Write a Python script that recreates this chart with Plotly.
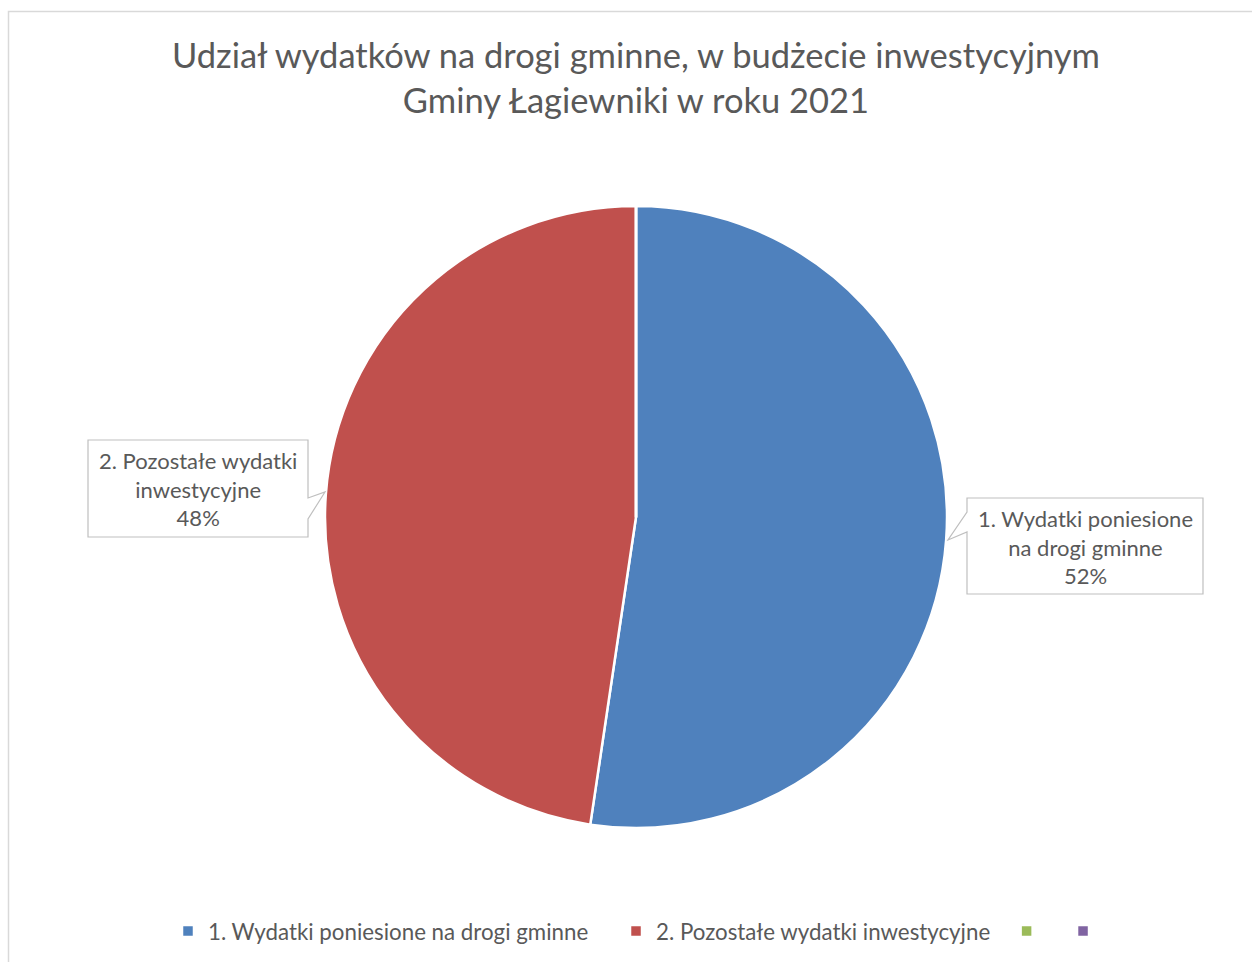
import plotly.graph_objects as go

# ---- data ----
categories = ["1. Wydatki poniesione na drogi gminne", "2. Pozostałe wydatki inwestycyjne", "", ""]
values = [52.35, 47.65, 0, 0]
colors = ["#4F81BD", "#C0504D", "#9BBB59", "#8064A2"]
callout_lines = [["1. Wydatki poniesione", "na drogi gminne"], ["2. Pozostałe wydatki", "inwestycyjne"]]
title_lines = ["Udział wydatków na drogi gminne, w budżecie inwestycyjnym", "Gminy Łagiewniki w roku 2021"]

W, H = 1252, 962
FONT = "Lato"
GRAY = "#595959"
NB = "\u00a0"

def px(x):
    return x / W

def py(y):
    return 1 - y / H

# legend labels: pad with invisible spaces (and keep empty ones unique)
legend_labels = []
pads = [4, 2, 2, 1]
for i, c in enumerate(categories):
    legend_labels.append(c + NB * pads[i])

fig = go.Figure(go.Pie(
    labels=legend_labels,
    values=values,
    marker=dict(colors=colors, line=dict(color="white", width=2.5)),
    sort=False,
    direction="clockwise",
    rotation=0,
    textinfo="none",
    hoverinfo="label+percent",
    domain=dict(x=[px(325), px(947)], y=[py(828), py(206)]),
))

total = sum(values)
pcts = [round(v / total * 100) for v in values]

shapes = []
# outer chart frame
shapes.append(dict(type="rect", xref="paper", yref="paper",
                   x0=px(8.5), x1=px(1270), y0=py(980), y1=py(11.5),
                   line=dict(color="#D9D9D9", width=1.5), fillcolor="rgba(0,0,0,0)", layer="below"))

def callout(box, pointer):
    x0, y0, x1, y1 = box
    a, tip, b = pointer["pts"]
    if pointer["side"] == "right":
        pts = [(x0, y0), (x1, y0), a, tip, b, (x1, y1), (x0, y1)]
    else:
        pts = [(x0, y0), (x1, y0), (x1, y1), (x0, y1), b, tip, a]
    path = "M" + " L".join(f"{px(x):.5f},{py(y):.5f}" for x, y in pts) + " Z"
    return dict(type="path", xref="paper", yref="paper", path=path,
                line=dict(color="#BFBFBF", width=1.2), fillcolor="white", layer="above")

# label boxes (right: series 1, left: series 2)
boxes = [
    ((967, 498, 1203, 594), dict(side="left", pts=[(967, 512), (948, 540), (967, 532)])),
    ((88, 440, 308, 537), dict(side="right", pts=[(308, 498), (325, 492), (308, 519)])),
]
annotations = []
for i, (box, ptr) in enumerate(boxes):
    shapes.append(callout(box, ptr))
    x0, y0, x1, y1 = box
    text = "<br>".join(callout_lines[i] + [f"{pcts[i]}%"])
    annotations.append(dict(xref="paper", yref="paper", x=px((x0 + x1) / 2), y=py((y0 + y1) / 2 + 0.5),
                            xanchor="center", yanchor="middle", showarrow=False,
                            text=text, align="center",
                            font=dict(family=FONT, size=22, color=GRAY)))

annotations.append(dict(xref="paper", yref="paper", x=px(636), y=py(77),
                        xanchor="center", yanchor="middle", showarrow=False,
                        text="<br>".join(title_lines), align="center",
                        font=dict(family=FONT, size=34.5, color=GRAY)))

fig.update_layout(
    width=W, height=H,
    margin=dict(l=0, r=0, t=0, b=0),
    paper_bgcolor="white",
    showlegend=True,
    legend=dict(orientation="h", x=px(641), xanchor="center", y=py(931), yanchor="middle",
                font=dict(family=FONT, size=22.3, color=GRAY), traceorder="normal"),
    shapes=shapes,
    annotations=annotations,
)

fig.write_html("out.html", post_script="document.body.style.margin='0';",
               config=dict(displayModeBar=False))
